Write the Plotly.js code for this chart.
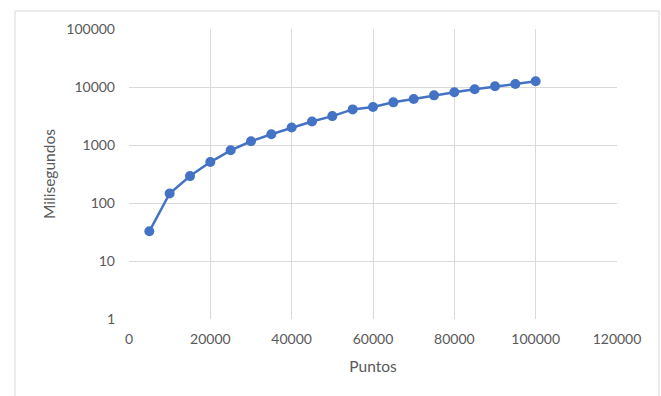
<!DOCTYPE html>
<html>
<head>
<meta charset="utf-8">
<script src="https://cdn.plot.ly/plotly-3.0.1.min.js"></script>
<style>
  html, body { margin: 0; padding: 0; background: #ffffff; }
  #chart { width: 661px; height: 396px; }
</style>
</head>
<body>
<div id="chart"></div>
<script>
const puntos = [5000, 10000, 15000, 20000, 25000, 30000, 35000, 40000, 45000, 50000,
                55000, 60000, 65000, 70000, 75000, 80000, 85000, 90000, 95000, 100000];
const milisegundos = [32.5, 146, 291, 508, 810, 1159, 1531, 2000, 2540, 3150,
                      4110, 4510, 5440, 6200, 7180, 8100, 9120, 10280, 11270, 12550];
const yTickVals = [1, 10, 100, 1000, 10000, 100000];
const yTickText = ['1', '10', '100', '1000', '10000', '100000'];
const xTickVals = [0, 20000, 40000, 60000, 80000, 100000, 120000];
const xTickText = ['0', '20000', '40000', '60000', '80000', '100000', '120000'];

const fontFamily = 'Lato, "Open Sans", sans-serif';
const textColor = '#595959';
const gridColor = '#d9d9d9';

const trace = {
  x: puntos,
  y: milisegundos,
  type: 'scatter',
  mode: 'lines+markers',
  line: { color: '#4472C4', width: 2.5 },
  marker: { color: '#4472C4', size: 10 },
  hoverinfo: 'x+y'
};

const layout = {
  width: 661,
  height: 396,
  margin: { l: 129, r: 44, t: 29, b: 77 },
  paper_bgcolor: '#ffffff',
  plot_bgcolor: '#ffffff',
  showlegend: false,
  font: { family: fontFamily, color: textColor, size: 13.5 },
  xaxis: {
    range: [0, 120000],
    tickvals: xTickVals,
    ticktext: xTickText,
    showgrid: true,
    gridcolor: gridColor,
    gridwidth: 1,
    zeroline: false,
    showline: false,
    ticks: '',
    ticklabelstandoff: 10,
    tickfont: { family: fontFamily, color: textColor, size: 14 },
    title: { text: 'Puntos', font: { family: fontFamily, color: textColor, size: 15.5 }, standoff: 15 },
    automargin: false,
    fixedrange: true
  },
  yaxis: {
    type: 'log',
    range: [0, 5],
    tickvals: yTickVals,
    ticktext: yTickText,
    showgrid: true,
    gridcolor: gridColor,
    gridwidth: 1,
    zeroline: false,
    showline: false,
    ticks: '',
    ticklabelstandoff: 13,
    tickfont: { family: fontFamily, color: textColor, size: 14 },
    title: { text: 'Milisegundos', font: { family: fontFamily, color: textColor, size: 15.5 }, standoff: 6 },
    automargin: false,
    fixedrange: true
  },
  shapes: [
    {
      type: 'rect', xref: 'paper', yref: 'paper',
      x0: (15 - 129) / 488, x1: (659 - 129) / 488,
      y0: (319 - 400) / 290, y1: (319 - 11) / 290,
      line: { color: '#d9d9d9', width: 1 },
      fillcolor: 'rgba(0,0,0,0)',
      layer: 'below'
    }
  ]
};

Plotly.newPlot('chart', [trace], layout, { displayModeBar: false, staticPlot: true });
</script>
</body>
</html>
